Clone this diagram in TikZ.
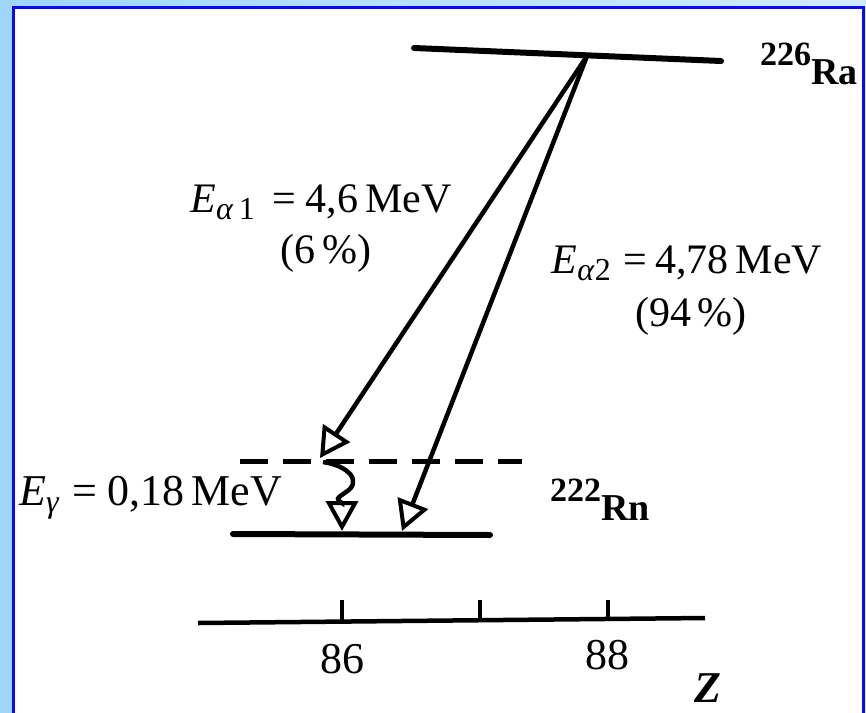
\documentclass[tikz,border=0pt]{standalone}
\usepackage{fontspec}
\setmainfont{Liberation Serif}
\usetikzlibrary{arrows.meta}
\definecolor{sky}{RGB}{158,214,250}
\definecolor{skylight}{RGB}{208,236,252}
\definecolor{rim}{RGB}{10,10,245}
\tikzset{
  energy/.style={line width=6pt,line cap=round},
  virtual/.style={line width=5pt,dash pattern=on 28pt off 15pt},
  decay/.style={-{Triangle[open,length=30pt,width=32pt,line width=4pt]},line width=4.5pt},
  lbl/.style={inner sep=0pt,font=\fontsize{42}{52}\selectfont,anchor=base},
  nuc/.style={inner sep=0pt,font=\fontsize{38}{40}\selectfont\bfseries,anchor=base west},
  zlabel/.style={inner sep=0pt,font=\fontsize{44}{46}\selectfont},
  axistick/.style={line width=3.5pt},
}
\newcommand{\lowsub}[1]{\raisebox{-7pt}{\fontsize{32}{32}\selectfont #1}}
\newcommand{\iso}[2]{\raisebox{19pt}{\fontsize{34}{34}\selectfont #1}#2}

\begin{document}
\begin{tikzpicture}[x=1pt,y=-1pt]
  \useasboundingbox (0,0) rectangle (866,712);
  \shade[left color=sky,right color=skylight] (0,0) rectangle (866,712);
  \filldraw[fill=white,draw=rim,line width=3pt] (13.5,7.5) rectangle (863.5,730);
  % levels
  \coordinate (ra-l) at (414,48);
  \coordinate (ra-r) at (721,61);
  \coordinate (src) at (587,56);
  \coordinate (ex-l) at (240,461);
  \coordinate (ex-r) at (522,461);
  \coordinate (rn-l) at (233,534);
  \coordinate (rn-r) at (490,535);
  \draw[energy] (ra-l) -- (ra-r);
  \draw[virtual] (ex-l) -- (ex-r);
  \draw[energy] (rn-l) -- (rn-r);
  % alpha and gamma transitions
  \coordinate (a1) at (320,458);
  \coordinate (a2) at (402,531);
  \coordinate (g-top) at (323,462);
  \coordinate (g-bot) at (342,531);
  \draw[decay] (src) -- (a1);
  \draw[decay] (src) -- (a2);
  \draw[decay] (g-top) .. controls (350,466) and (362,482) .. (346,492)
    .. controls (336,499) .. (342,503) -- (g-bot);
  % Z axis
  \coordinate (ax-l) at (198,623);
  \coordinate (ax-r) at (705,618);
  \draw[line width=4.5pt] (ax-l) -- (ax-r);
  \foreach \x in {342,480,608}
    \draw[axistick] (\x,{623-(\x-198)*5/507}) -- (\x,600);
  \node[zlabel] (n86) at (342,659) {86};
  \node[zlabel] (n88) at (607,655) {88};
  \node[zlabel,font=\fontsize{44}{46}\selectfont\bfseries\itshape] (zaxis) at (708,688) {Z};
  % labels
  \node[lbl] (ea1) at (321,212) {\textit{E}\lowsub{\textit{α}\,1}\hspace{18pt}=\hspace{9pt}4,6\,MeV};
  \node[lbl] (pa1) at (326,263) {(6\,\%)};
  \node[lbl] (ea2) at (687,273) {\textit{E}\lowsub{\textit{α}2}\hspace{13pt}=\hspace{8pt}4,78\,MeV};
  \node[lbl] (pa2) at (691,326) {(94\,\%)};
  \node[lbl,anchor=base west,font=\fontsize{44}{52}\selectfont] (egam) at (19,505) {\textit{E}\lowsub{\textit{γ}}\hspace{13pt}=\hspace{10pt}0,18\,MeV};
  \node[nuc] (ra) at (760,84) {\iso{226}{Ra}};
  \node[nuc] (rn) at (550,520) {\iso{222}{Rn}};
\end{tikzpicture}
\end{document}
